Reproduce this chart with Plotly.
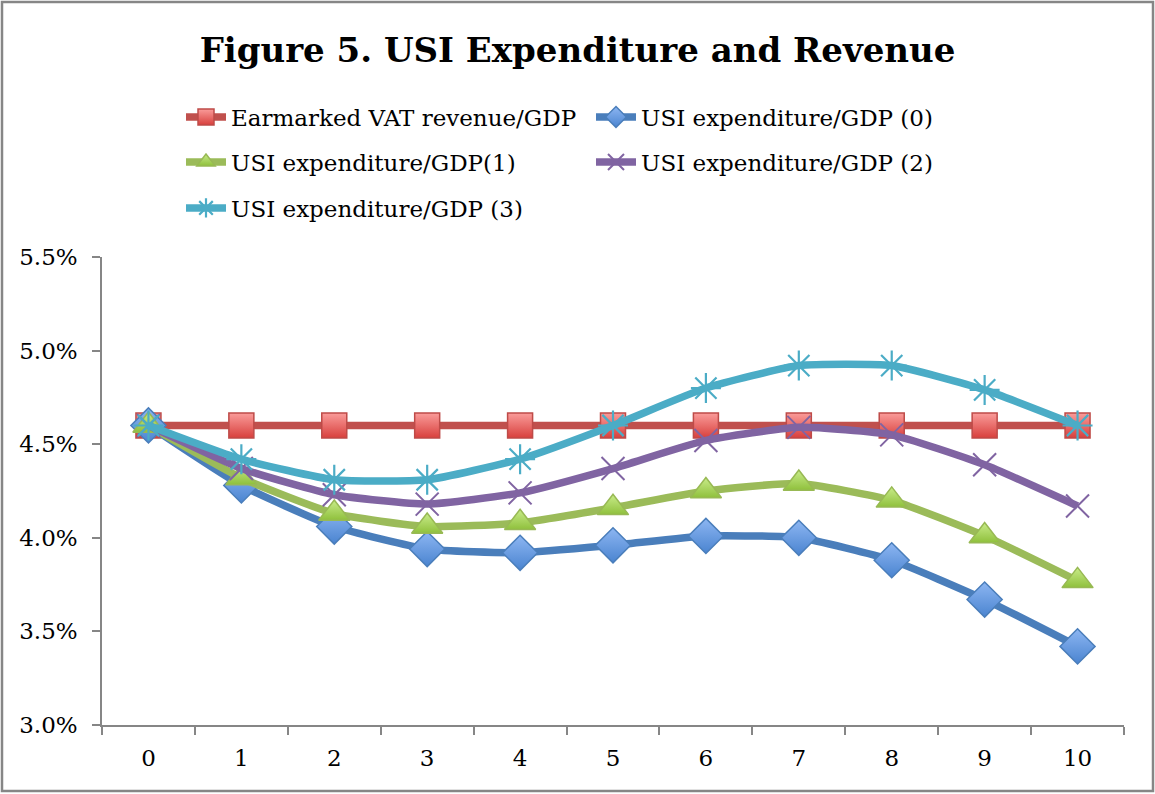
import plotly.graph_objects as go

periods = ["0", "1", "2", "3", "4", "5", "6", "7", "8", "9", "10"]
vat_revenue = [4.60, 4.60, 4.60, 4.60, 4.60, 4.60, 4.60, 4.60, 4.60, 4.60, 4.60]
usi_exp_0 = [4.60, 4.28, 4.06, 3.94, 3.92, 3.96, 4.01, 4.00, 3.88, 3.67, 3.42]
usi_exp_1 = [4.60, 4.32, 4.13, 4.06, 4.08, 4.16, 4.25, 4.29, 4.20, 4.01, 3.77]
usi_exp_2 = [4.60, 4.37, 4.23, 4.18, 4.24, 4.37, 4.52, 4.59, 4.55, 4.39, 4.17]
usi_exp_3 = [4.60, 4.42, 4.31, 4.31, 4.42, 4.60, 4.80, 4.92, 4.92, 4.79, 4.60]

names = ["Earmarked VAT revenue/GDP", "USI expenditure/GDP (0)", "USI expenditure/GDP(1)",
         "USI expenditure/GDP (2)", "USI expenditure/GDP (3)"]
yticks = [3.0, 3.5, 4.0, 4.5, 5.0, 5.5]
ytick_labels = ["3.0%", "3.5%", "4.0%", "4.5%", "5.0%", "5.5%"]

FONT = "DejaVu Serif"
fig = go.Figure()

def add(y, name, color, marker, legend):
    fig.add_trace(go.Scatter(
        x=periods, y=[v for v in y], name=name, mode="lines+markers",
        line=dict(color=color, width=7.5, shape="spline", smoothing=0.5),
        marker=marker, legend=legend))

add(vat_revenue, names[0], "#C0504D",
    dict(symbol="square", size=25, color="#FA9C9A",
         gradient=dict(type="vertical", color="#D8403D"),
         line=dict(color="#BE4B48", width=1.5)), "legend")
add(usi_exp_0, names[1], "#4A7EBB",
    dict(symbol="diamond", size=27, color="#8DB6F2",
         gradient=dict(type="vertical", color="#4A84D0"),
         line=dict(color="#4A7EBB", width=1.5)), "legend")
add(usi_exp_1, names[2], "#9BBB59",
    dict(symbol="triangle-up", size=27, color="#C9EC8A",
         gradient=dict(type="vertical", color="#8FC03C"),
         line=dict(color="#98B954", width=1.5)), "legend2")
add(usi_exp_2, names[3], "#8064A2",
    dict(symbol="x-thin-open", size=23, color="#8064A2",
         line=dict(color="#8064A2", width=2)), "legend2")
add(usi_exp_3, names[4], "#4BACC6",
    dict(symbol="asterisk-open", size=25, color="#4BACC6",
         line=dict(color="#4BACC6", width=2.2)), "legend3")

leg_common = dict(orientation="h", xref="container", yref="container",
                  x=181 / 1155, xanchor="left", yanchor="middle",
                  entrywidth=355, entrywidthmode="pixels",
                  font=dict(family=FONT, size=23, color="#000000"),
                  bgcolor="rgba(0,0,0,0)", itemwidth=40, traceorder="normal")

fig.update_layout(
    width=1155, height=794,
    paper_bgcolor="white", plot_bgcolor="white",
    margin=dict(l=102, r=31, t=257, b=69),
    title=dict(text="<b>Figure 5. USI Expenditure and Revenue</b>",
               font=dict(family=FONT, size=34, color="#000000"),
               x=0.5, xanchor="center", xref="container",
               y=1 - 50 / 794, yanchor="middle", yref="container"),
    legend=dict(**leg_common, y=1 - 117 / 794),
    legend2=dict(**leg_common, y=1 - 162 / 794),
    legend3=dict(**leg_common, y=1 - 208 / 794),
    xaxis=dict(type="category", tickson="boundaries", ticks="outside", ticklen=8,
               tickcolor="#868686", tickwidth=1.5, showline=True, linecolor="#868686",
               linewidth=1.5, showgrid=False, zeroline=False,
               tickfont=dict(family=FONT, size=23, color="#000000"),
               ticklabelstandoff=12, range=[-0.5, 10.5]),
    yaxis=dict(range=[3.0, 5.5], tickvals=yticks, ticktext=ytick_labels,
               ticks="outside", ticklen=8, tickcolor="#868686", tickwidth=1.5,
               showline=True, linecolor="#868686", linewidth=1.5,
               showgrid=False, zeroline=False,
               tickfont=dict(family=FONT, size=23, color="#000000"),
               ticklabelstandoff=10),
    shapes=[dict(type="rect", xref="paper", yref="paper",
                 x0=(2 - 102) / 1022, x1=(1153 - 102) / 1022,
                 y0=(725 - 791) / 468, y1=(725 - 2) / 468,
                 line=dict(color="#868686", width=2.5), fillcolor="rgba(0,0,0,0)",
                 layer="below")],
    showlegend=True,
)

fig.write_html("out.html", config={"displayModeBar": False},
               post_script="document.body.style.margin='0';document.body.style.padding='0';")
